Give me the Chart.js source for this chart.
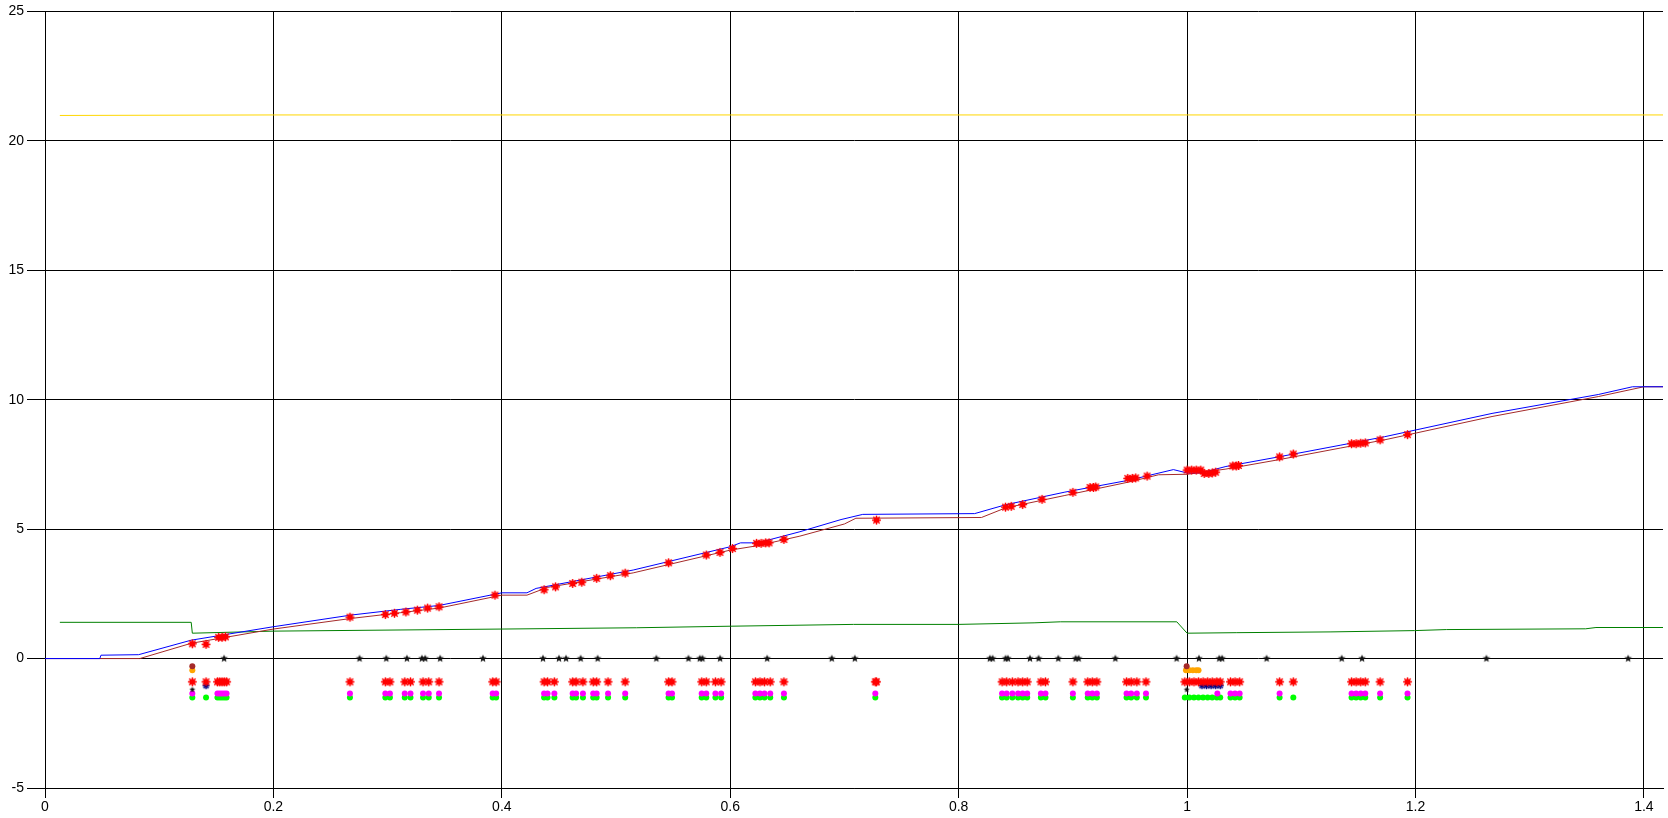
<!DOCTYPE html>
<html>
<head>
<meta charset="utf-8">
<script src="https://cdn.jsdelivr.net/npm/chart.js@4.4.0/dist/chart.umd.min.js"></script>
<style>
  html, body { margin: 0; padding: 0; background: #fff; }
</style>
</head>
<body>
<canvas id="myChart" width="1668" height="818"></canvas>
<script>
// --- data ---
const yellowLine = [[0.013, 20.98], [0.2, 21.0], [0.6, 21.0], [1.0, 21.0], [1.417, 21.0]];

const blueLine = [[0, 0], [0.048, 0], [0.049, 0.13], [0.082, 0.15], [0.128, 0.71], [0.2, 1.23],
  [0.268, 1.68], [0.311, 1.9], [0.345, 2.05], [0.4, 2.54], [0.422, 2.54], [0.43, 2.71],
  [0.515, 3.42], [0.6, 4.32], [0.609, 4.47], [0.624, 4.47], [0.661, 4.9], [0.697, 5.37],
  [0.716, 5.57], [0.814, 5.6], [0.841, 5.94], [0.893, 6.43], [0.949, 6.89], [0.988, 7.3],
  [1.0, 7.17], [1.012, 7.17], [1.034, 7.42], [1.08, 7.79], [1.134, 8.24], [1.173, 8.57],
  [1.267, 9.47], [1.36, 10.2], [1.39, 10.5], [1.417, 10.5]];

const brownLine = [[0, 0], [0.083, 0], [0.128, 0.59], [0.2, 1.14], [0.268, 1.55], [0.311, 1.77],
  [0.345, 1.95], [0.4, 2.45], [0.422, 2.45], [0.44, 2.75], [0.515, 3.31], [0.6, 4.19],
  [0.624, 4.36], [0.661, 4.73], [0.7, 5.2], [0.71, 5.42], [0.82, 5.45], [0.841, 5.82],
  [0.893, 6.3], [0.949, 6.82], [0.975, 7.1], [1.0, 7.12], [1.034, 7.32], [1.08, 7.68],
  [1.134, 8.13], [1.173, 8.45], [1.267, 9.35], [1.36, 10.12], [1.4, 10.5], [1.417, 10.5]];

const greenLine = [[0.013, 1.4], [0.128, 1.4], [0.129, 0.98], [0.2, 1.06], [0.4, 1.14], [0.518, 1.19],
  [0.6, 1.25], [0.708, 1.32], [0.8, 1.32], [0.866, 1.38], [0.889, 1.42], [0.991, 1.42],
  [1.0, 0.98], [1.043, 1.0], [1.126, 1.03], [1.199, 1.08], [1.227, 1.12], [1.349, 1.15],
  [1.358, 1.2], [1.417, 1.2]];

const blackStarX = [0.1568, 0.2754, 0.2988, 0.3169, 0.3300, 0.3329, 0.3460, 0.3835, 0.4360,
  0.4500, 0.4562, 0.4690, 0.4839, 0.5353, 0.5634, 0.5733, 0.5756, 0.5911, 0.6323, 0.6889,
  0.7091, 0.8273, 0.8297, 0.8411, 0.8431, 0.8624, 0.8700, 0.8872, 0.9024, 0.9050, 0.9372,
  0.9908, 1.0104, 1.0282, 1.0307, 1.0696, 1.1354, 1.1532, 1.2621, 1.3862];

const curveStarX = [0.129, 0.141, 0.152, 0.155, 0.158, 0.267, 0.298, 0.306, 0.316, 0.326, 0.335,
  0.345, 0.394, 0.437, 0.447, 0.462, 0.470, 0.483, 0.495, 0.508, 0.546, 0.579, 0.591, 0.602,
  0.623, 0.627, 0.631, 0.634, 0.647, 0.728, 0.841, 0.846, 0.856, 0.873, 0.900, 0.915, 0.918,
  0.920, 0.948, 0.952, 0.955, 0.965, 1.000, 1.004, 1.008, 1.012, 1.015, 1.019, 1.022, 1.025,
  1.040, 1.043, 1.045, 1.081, 1.093, 1.144, 1.148, 1.152, 1.156, 1.169, 1.193];
const curveStarY = [0.57, 0.55, 0.82, 0.82, 0.84, 1.6, 1.7, 1.75, 1.8, 1.87, 1.95,
  2.0, 2.45, 2.66, 2.77, 2.9, 2.95, 3.1, 3.2, 3.3, 3.7, 4.0, 4.1, 4.25,
  4.45, 4.45, 4.47, 4.47, 4.6, 5.35, 5.85, 5.88, 5.95, 6.15, 6.42, 6.61, 6.61,
  6.63, 6.96, 6.96, 6.98, 7.05, 7.28, 7.28, 7.28, 7.28, 7.15, 7.15, 7.17, 7.2,
  7.44, 7.44, 7.46, 7.79, 7.9, 8.3, 8.3, 8.32, 8.33, 8.45, 8.65];

const redRowX = [0.129, 0.141, 0.151, 0.153, 0.155, 0.157, 0.159, 0.267, 0.298, 0.302, 0.315,
  0.320, 0.331, 0.336, 0.345, 0.392, 0.395, 0.437, 0.440, 0.446, 0.462, 0.465, 0.471, 0.480,
  0.483, 0.493, 0.508, 0.546, 0.549, 0.575, 0.579, 0.587, 0.592, 0.622, 0.626, 0.630, 0.635,
  0.647, 0.727, 0.728, 0.838, 0.842, 0.847, 0.852, 0.856, 0.860, 0.872, 0.876, 0.900, 0.913,
  0.917, 0.921, 0.947, 0.951, 0.956, 0.964, 0.998, 1.002, 1.006, 1.010, 1.014, 1.018, 1.022,
  1.026, 1.029, 1.038, 1.042, 1.046, 1.081, 1.093, 1.144, 1.148, 1.152, 1.156, 1.169, 1.193];

const magentaRowX = [0.129, 0.151, 0.153, 0.155, 0.157, 0.159, 0.267, 0.298, 0.302, 0.315,
  0.320, 0.331, 0.336, 0.345, 0.392, 0.395, 0.437, 0.440, 0.446, 0.462, 0.465, 0.471, 0.480,
  0.483, 0.493, 0.508, 0.546, 0.549, 0.575, 0.579, 0.587, 0.592, 0.622, 0.626, 0.630, 0.635,
  0.647, 0.727, 0.838, 0.842, 0.847, 0.852, 0.856, 0.860, 0.872, 0.876, 0.900, 0.913,
  0.917, 0.921, 0.947, 0.951, 0.956, 0.964, 1.0265, 1.038, 1.042, 1.046, 1.081, 1.144, 1.148,
  1.152, 1.156, 1.169, 1.193];

const greenRowX = [0.129, 0.141, 0.151, 0.153, 0.155, 0.157, 0.159, 0.267, 0.298, 0.302, 0.315,
  0.320, 0.331, 0.336, 0.345, 0.392, 0.395, 0.437, 0.440, 0.446, 0.462, 0.465, 0.471, 0.480,
  0.483, 0.493, 0.508, 0.546, 0.549, 0.575, 0.579, 0.587, 0.592, 0.622, 0.626, 0.630, 0.635,
  0.647, 0.727, 0.838, 0.842, 0.847, 0.852, 0.856, 0.860, 0.872, 0.876, 0.900, 0.913,
  0.917, 0.921, 0.947, 0.951, 0.956, 0.964, 0.998, 1.002, 1.006, 1.010, 1.014, 1.018, 1.022,
  1.026, 1.029, 1.038, 1.042, 1.046, 1.081, 1.093, 1.144, 1.148, 1.152, 1.156, 1.169, 1.193];

const navyRowX = [0.141, 1.013, 1.017, 1.021, 1.025, 1.029];
const orangeRowX = [0.129, 0.999, 1.002, 1.005, 1.008, 1.010];
const brownDotX = [0.129, 0.9996];
const smallBlackX = [0.129, 0.9996];

const rowY = { red: -0.9, navy: -1.05, smallBlack: -1.2, magenta: -1.35, green: -1.5, brown: -0.3, orange: -0.45 };

const xTickStep = 0.2;
const yTickStep = 5;

// --- marker images ---
function starImage(color, outer, inner) {
    const s = Math.ceil(outer * 2) + 2;
    const c = document.createElement('canvas');
    c.width = s; c.height = s;
    const g = c.getContext('2d');
    g.fillStyle = color;
    g.beginPath();
    for (let i = 0; i < 10; i++) {
        const r = i % 2 ? inner : outer;
        const a = -Math.PI / 2 + i * Math.PI / 5;
        g.lineTo(s / 2 + r * Math.cos(a), s / 2 + r * Math.sin(a));
    }
    g.closePath();
    g.fill();
    return c;
}

function blobImage(color, r, spike) {
    const s = Math.ceil(spike * 2) + 2;
    const c = document.createElement('canvas');
    c.width = s; c.height = s;
    const g = c.getContext('2d');
    g.fillStyle = color;
    g.strokeStyle = color;
    g.lineWidth = 1.4;
    g.beginPath();
    g.arc(s / 2, s / 2, r, 0, Math.PI * 2);
    g.fill();
    for (let i = 0; i < 4; i++) {
        const a = i * Math.PI / 4;
        g.beginPath();
        g.moveTo(s / 2 - spike * Math.cos(a), s / 2 - spike * Math.sin(a));
        g.lineTo(s / 2 + spike * Math.cos(a), s / 2 + spike * Math.sin(a));
        g.stroke();
    }
    return c;
}

const blackStar = starImage('#111', 4, 1.8);
const smallBlackStar = starImage('#111', 3, 1.4);
const navyStar = blobImage('#000080', 1.5, 3.5);
const redBlob = blobImage('#ff0000', 3, 4.5);

function pts(xs, y) { return xs.map(x => ({ x: x, y: y })); }
function pairs(arr) { return arr.map(p => ({ x: p[0], y: p[1] })); }

function markers(label, data, style, color, radius) {
    return { label, data, showLine: false, pointStyle: style, pointRadius: radius,
             pointBackgroundColor: color, pointBorderColor: color, pointBorderWidth: 0, pointHoverRadius: radius };
}
function line(label, data, color) {
    return { label, data, showLine: true, borderColor: color, borderWidth: 1, pointRadius: 0, fill: false, tension: 0 };
}

const datasets = [
    markers('curve stars', curveStarX.map((x, i) => ({ x: x, y: curveStarY[i] })), redBlob, '#ff0000', 5),
    markers('black stars', pts(blackStarX, 0), blackStar, '#111', 5),
    markers('brown', pts(brownDotX, rowY.brown), 'circle', '#a52a2a', 3),
    markers('orange', pts(orangeRowX, rowY.orange), 'circle', '#ffa500', 3),
    markers('red row', pts(redRowX, rowY.red), redBlob, '#ff0000', 5),
    markers('navy row', pts(navyRowX, rowY.navy), navyStar, '#000080', 4),
    markers('small black', pts(smallBlackX, rowY.smallBlack), smallBlackStar, '#111', 4),
    markers('magenta row', pts(magentaRowX, rowY.magenta), 'circle', '#ff00ff', 3),
    markers('green row', pts(greenRowX, rowY.green), 'circle', '#00ff00', 3),
    line('blue', pairs(blueLine), '#0000ff'),
    line('brown', pairs(brownLine), '#a52a2a'),
    line('green', pairs(greenLine), '#008000'),
    line('yellow', pairs(yellowLine), '#ffd700'),
];

const tickFont = { family: 'Liberation Sans, Arial, sans-serif', size: 14 };

const chart = new Chart(document.getElementById('myChart').getContext('2d'), {
    type: 'scatter',
    data: { datasets: datasets },
    options: {
        responsive: false,
        animation: false,
        layout: { padding: { top: 11, right: 5, left: 0, bottom: 0 } },
        plugins: { legend: { display: false }, tooltip: { enabled: false } },
        scales: {
            x: {
                type: 'linear', min: 0, max: 1.4167,
                ticks: { stepSize: xTickStep, includeBounds: false, color: '#000', font: tickFont, padding: 1,
                         maxRotation: 0, autoSkip: false, callback: v => String(+v.toFixed(1)) },
                grid: { color: '#000', lineWidth: 1, tickLength: 10, drawTicks: true },
                border: { color: '#000', width: 1 },
                afterFit: s => { s.height = 30; }
            },
            y: {
                type: 'linear', min: -5, max: 25,
                ticks: { stepSize: yTickStep, color: '#000', font: tickFont, padding: 3, autoSkip: false },
                grid: { color: '#000', lineWidth: 1, tickLength: 18, drawTicks: true },
                border: { color: '#000', width: 1 },
                afterFit: s => { s.width = 45; }
            }
        }
    }
});
</script>
</body>
</html>
